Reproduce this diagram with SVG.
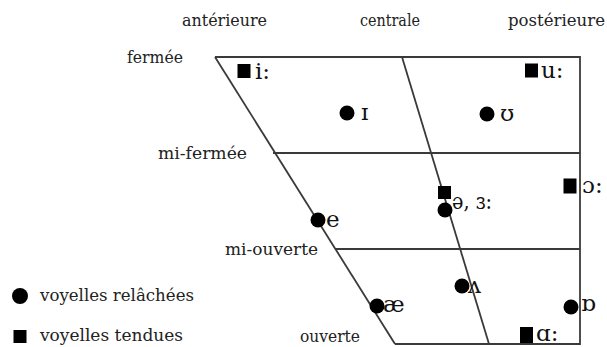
<svg xmlns="http://www.w3.org/2000/svg" width="607" height="347" viewBox="0 0 607 347">
<style>
text{font-family:'DejaVu Serif','Liberation Serif',serif}
.lbl{font-size:17px;fill:#222}
.ipa{font-size:23px;fill:#111}
.ln{stroke:#3a3a3a;stroke-width:1.8;fill:none}
.dot{fill:#000}
</style>
<rect width="607" height="347" fill="#fff"/>
<g id="headers" font-family="DejaVu Serif, Liberation Serif, serif">
<text class="lbl" x="182" y="26" textLength="85" lengthAdjust="spacingAndGlyphs">antérieure</text>
<text class="lbl" x="360" y="26" textLength="60" lengthAdjust="spacingAndGlyphs">centrale</text>
<text class="lbl" x="508" y="26" textLength="97" lengthAdjust="spacingAndGlyphs">postérieure</text>
<text class="lbl" x="127" y="63" textLength="56" lengthAdjust="spacingAndGlyphs">fermée</text>
<text class="lbl" x="158" y="159" textLength="89" lengthAdjust="spacingAndGlyphs">mi-fermée</text>
<text class="lbl" x="225" y="255" textLength="93" lengthAdjust="spacingAndGlyphs">mi-ouverte</text>
<text class="lbl" x="300" y="342" textLength="60" lengthAdjust="spacingAndGlyphs">ouverte</text>
</g>
<g id="grid">
<line class="ln" x1="215" y1="57" x2="580" y2="57"/>
<line class="ln" x1="273" y1="153" x2="580" y2="153"/>
<line class="ln" x1="335" y1="249" x2="580" y2="249"/>
<line class="ln" x1="395" y1="344" x2="580" y2="344"/>
<line class="ln" x1="580" y1="56" x2="580" y2="345"/>
<line class="ln" x1="215" y1="57" x2="395" y2="344"/>
<line class="ln" x1="402" y1="57" x2="489" y2="344"/>
</g>
<g id="v-i" font-family="DejaVu Serif, serif">
<rect class="dot" x="237.5" y="64" width="13" height="14"/>
<text class="ipa" x="255" y="79">i:</text>
</g>
<g id="v-I" font-family="DejaVu Serif, serif">
<circle class="dot" cx="347" cy="113" r="7.5"/>
<text class="ipa" x="361" y="120">ɪ</text>
</g>
<g id="v-u" font-family="DejaVu Serif, serif">
<rect class="dot" x="525" y="63.5" width="13" height="14"/>
<text class="ipa" x="541" y="78">u:</text>
</g>
<g id="v-U" font-family="DejaVu Serif, serif">
<circle class="dot" cx="487" cy="114" r="7.5"/>
<text class="ipa" x="500" y="121">ʊ</text>
</g>
<g id="v-open-o" font-family="DejaVu Serif, serif">
<rect class="dot" x="563.5" y="178.5" width="13" height="15"/>
<text class="ipa" x="582" y="193">ɔ:</text>
</g>
<g id="v-schwa" font-family="DejaVu Serif, serif">
<rect class="dot" x="438" y="186" width="13" height="13"/>
<circle class="dot" cx="445" cy="210" r="7.5"/>
<text class="ipa" x="452" y="209" textLength="40" lengthAdjust="spacingAndGlyphs">ə, ɜ:</text>
</g>
<g id="v-e" font-family="DejaVu Serif, serif">
<circle class="dot" cx="318" cy="220" r="7.5"/>
<text class="ipa" x="326" y="227">e</text>
</g>
<g id="v-wedge" font-family="DejaVu Serif, serif">
<circle class="dot" cx="462" cy="286" r="7.5"/>
<text class="ipa" x="468" y="293">ʌ</text>
</g>
<g id="v-ae" font-family="DejaVu Serif, serif">
<circle class="dot" cx="377" cy="306" r="7.5"/>
<text class="ipa" x="383" y="312">æ</text>
</g>
<g id="v-turned-a" font-family="DejaVu Serif, serif">
<circle class="dot" cx="571" cy="307" r="7.5"/>
<text class="ipa" x="581" y="311">ɒ</text>
</g>
<g id="v-a" font-family="DejaVu Serif, serif">
<rect class="dot" x="520" y="327" width="13" height="16"/>
<text class="ipa" x="536" y="341">ɑ:</text>
</g>
<g id="legend">
<circle class="dot" cx="20" cy="296" r="8"/>
<text class="lbl" x="40" y="301" textLength="154" lengthAdjust="spacingAndGlyphs">voyelles relâchées</text>
<rect class="dot" x="13.5" y="330" width="13" height="13"/>
<text class="lbl" x="40" y="341" textLength="143" lengthAdjust="spacingAndGlyphs">voyelles tendues</text>
</g>
</svg>
